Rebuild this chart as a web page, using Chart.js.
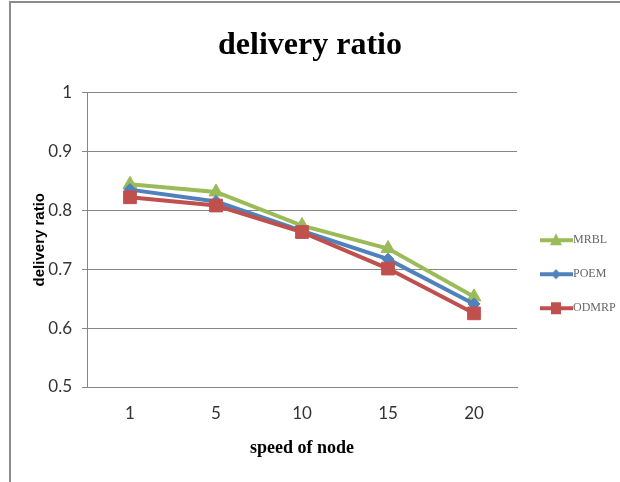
<!DOCTYPE html>
<html>
<head>
<meta charset="utf-8">
<title>delivery ratio</title>
<script src="https://cdn.jsdelivr.net/npm/chart.js@4.4.1/dist/chart.umd.min.js"></script>
<style>
    html, body { margin: 0; padding: 0; background: #fff; overflow: hidden; }
    #wrap { position: relative; width: 620px; height: 482px; }
</style>
</head>
<body>
<div id="wrap"><canvas id="my-chart"></canvas></div>
<script>
var speeds = ["1", "5", "10", "15", "20"];
var mrbl = [0.844, 0.831, 0.774, 0.735, 0.653];
var poem = [0.835, 0.815, 0.765, 0.717, 0.641];
var odmrp = [0.822, 0.808, 0.763, 0.701, 0.625];

var gridColor = "#868686";
var colors = { mrbl: "#9BBB59", poem: "#4F81BD", odmrp: "#C0504D" };

// little line+marker picture for each legend entry
function legendImage(color, shape) {
    var c = document.createElement("canvas");
    c.width = 40;
    c.height = 16;
    var g = c.getContext("2d");
    g.strokeStyle = color;
    g.fillStyle = color;
    g.lineWidth = 4;
    g.beginPath();
    g.moveTo(7, 8);
    g.lineTo(40, 8);
    g.stroke();
    var cx = 23, cy = 8;
    g.beginPath();
    if (shape === "triangle") {
        g.moveTo(cx, cy - 7);
        g.lineTo(cx + 6, cy + 5);
        g.lineTo(cx - 6, cy + 5);
    } else if (shape === "rectRot") {
        g.moveTo(cx, cy - 5);
        g.lineTo(cx + 5, cy);
        g.lineTo(cx, cy + 5);
        g.lineTo(cx - 5, cy);
    } else {
        g.rect(cx - 5, cy - 6, 10, 12);
    }
    g.closePath();
    g.fill();
    return c;
}

var framePlugin = {
    id: "frame",
    beforeDraw: function (chart) {
        var ctx = chart.ctx;
        ctx.save();
        ctx.strokeStyle = "#8c8c8c";
        ctx.lineWidth = 2;
        ctx.beginPath();
        ctx.moveTo(10, 490);
        ctx.lineTo(10, 2);
        ctx.lineTo(640, 2);
        ctx.stroke();
        ctx.restore();
    }
};

function makeSet(label, data, color, shape, radius, order) {
    return {
        label: label,
        data: data,
        borderColor: color,
        backgroundColor: color,
        borderWidth: 4,
        pointStyle: shape,
        pointRadius: radius,
        pointBorderWidth: 1,
        pointBackgroundColor: color,
        pointBorderColor: color,
        tension: 0,
        order: order,
        legendShape: shape
    };
}

var config = {
    type: "line",
    data: {
        labels: speeds,
        datasets: [
            makeSet("MRBL", mrbl, colors.mrbl, "triangle", 8, 3),
            makeSet("POEM", poem, colors.poem, "rectRot", 6, 2),
            makeSet("ODMRP", odmrp, colors.odmrp, "rect", 9, 1)
        ]
    },
    options: {
        responsive: true,
        maintainAspectRatio: false,
        animation: false,
        layout: { padding: 0 },
        plugins: {
            title: {
                display: true,
                text: "delivery ratio",
                color: "#000",
                font: { family: "'Liberation Serif', 'Times New Roman', serif", size: 32, weight: "bold" },
                padding: { top: 27, bottom: 27 }
            },
            legend: {
                display: true,
                position: "right",
                fullSize: false,
                maxWidth: 103,
                title: { display: true, text: "", font: { size: 12 }, padding: { top: 54.6, bottom: 0 } },
                labels: {
                    usePointStyle: true,
                    pointStyleWidth: 28,
                    padding: 22,
                    color: "#1a1a1a",
                    font: { family: "'Liberation Serif', 'Times New Roman', serif", size: 12 },
                    generateLabels: function (chart) {
                        return chart.data.datasets.map(function (ds, i) {
                            return {
                                text: ds.label,
                                datasetIndex: i,
                                pointStyle: legendImage(ds.borderColor, ds.legendShape),
                                fillStyle: ds.borderColor,
                                strokeStyle: ds.borderColor,
                                lineWidth: 0,
                                hidden: false
                            };
                        });
                    }
                }
            },
            tooltip: { enabled: false }
        },
        scales: {
            x: {
                offset: true,
                grid: { display: false, drawTicks: false },
                border: { display: true, color: gridColor },
                ticks: {
                    color: "#333",
                    padding: 16,
                    font: { family: "Lato, 'Liberation Sans', sans-serif", size: 17 }
                },
                title: {
                    display: true,
                    text: "speed of node",
                    color: "#000",
                    font: { family: "'Liberation Serif', 'Times New Roman', serif", size: 18, weight: "bold" },
                    padding: { top: 0, bottom: 23 }
                },
                afterFit: function (scale) { scale.height = 95; }
            },
            y: {
                min: 0.5,
                max: 1,
                ticks: {
                    stepSize: 0.1,
                    color: "#333",
                    padding: 10,
                    font: { family: "Lato, 'Liberation Sans', sans-serif", size: 17 },
                    callback: function (v) { return String(+v.toFixed(1)); }
                },
                grid: { color: gridColor, lineWidth: 1, tickLength: 5, tickColor: gridColor },
                border: { display: true, color: gridColor },
                title: {
                    display: true,
                    text: "delivery ratio",
                    color: "#000",
                    font: { family: "'Liberation Sans', Arial, sans-serif", size: 15, weight: "bold" },
                    padding: { top: 31, bottom: 0 }
                },
                afterFit: function (scale) { scale.width = 87; }
            }
        }
    },
    plugins: [framePlugin]
};

var ctx = document.getElementById("my-chart").getContext("2d");
var deliveryChart = new Chart(ctx, config);
</script>
</body>
</html>
